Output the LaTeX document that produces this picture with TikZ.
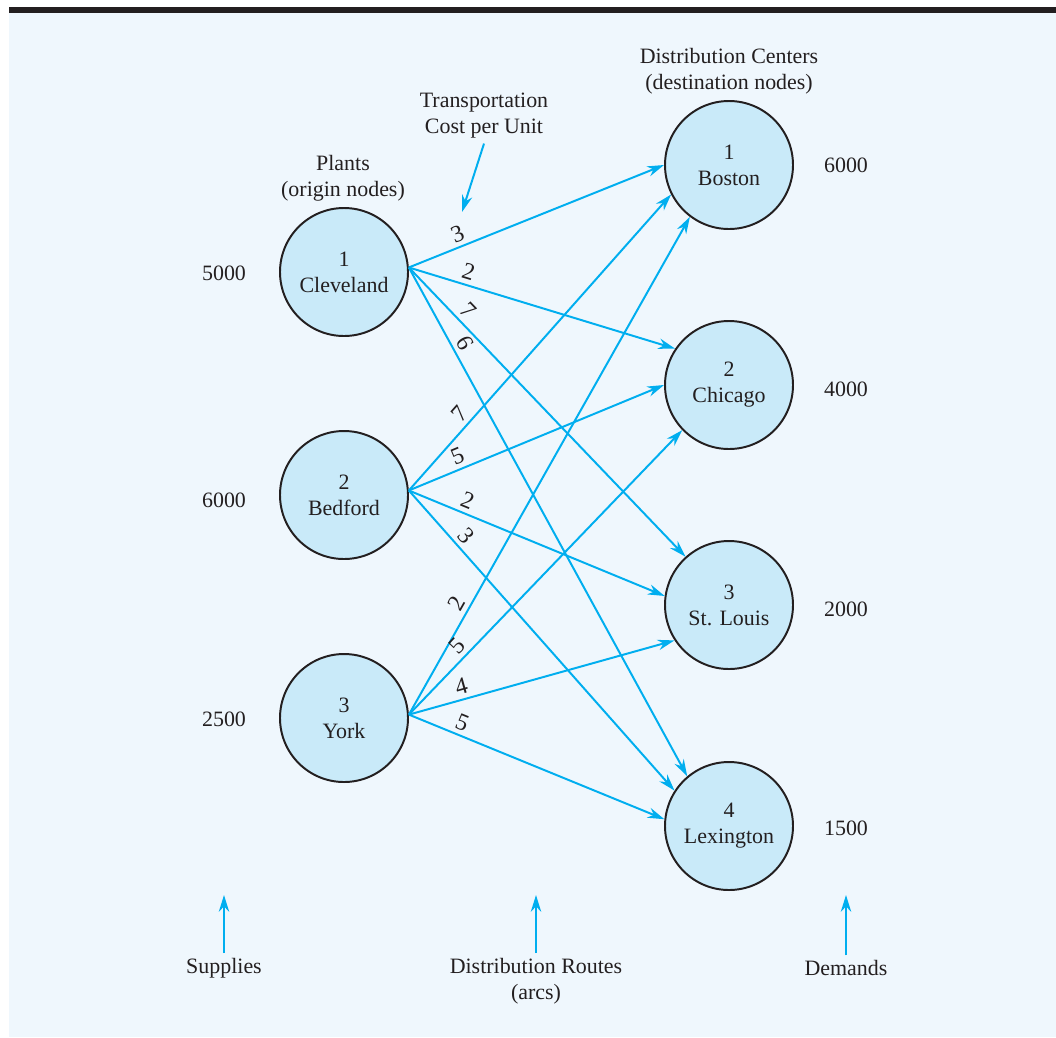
\documentclass[tikz,border=0pt]{standalone}
\usepackage{fontspec}
\setmainfont{Liberation Serif}
\usetikzlibrary{arrows.meta}
\definecolor{routecyan}{HTML}{00AEEF}
\definecolor{nodefill}{HTML}{C9EAF9}
\definecolor{panel}{HTML}{EFF7FD}
\definecolor{ink}{HTML}{231F20}

\begin{document}
\begin{tikzpicture}[x=0.25mm,y=-0.25mm,
  font=\fontsize{15.6}{18.5}\selectfont, text=ink,
  site/.style={draw=ink, line width=1.4pt, circle, fill=nodefill, minimum size=32mm, inner sep=0pt, align=center},
  route/.style={draw=routecyan, line width=1.4pt, -{Stealth[length=4.2mm,width=2.6mm]}},
  cost/.style={sloped, above, pos=0.21, inner sep=3pt, font=\fontsize{17}{18.5}\selectfont}]
\useasboundingbox (0,0) rectangle (1056,1037);
\fill[panel] (9,13) rectangle (1056,1037);
\fill[ink] (9,7) rectangle (1056,13);

% plants and distribution centers
\node[site] (p1) at (344,272) {1\\Cleveland};
\node[site] (p2) at (344,495) {2\\Bedford};
\node[site] (p3) at (344,718) {3\\York};

\node[site] (d1) at (729,165) {1\\Boston};
\node[site] (d2) at (729,385) {2\\Chicago};
\node[site] (d3) at (729,605) {3\\St. Louis};
\node[site] (d4) at (729,826) {4\\Lexington};

\node[align=center] (plants) at (343,178) {Plants\\(origin nodes)};
\node[align=center] (centers) at (729,71) {Distribution Centers\\(destination nodes)};
\node[align=center] (tc) at (484,116) {Transportation\\Cost per Unit};
\coordinate (tcend) at (462,212);

% supplies and demands
\node (s1) at (224,273) {5000};
\node (s2) at (224,500) {6000};
\node (s3) at (224,719) {2500};
\node (q1) at (846,165) {6000};
\node (q2) at (846,389) {4000};
\node (q3) at (846,609) {2000};
\node (q4) at (846,828) {1500};

% routes
\draw[route] (p1.4) -- node[cost]{3} (d1.180);
\draw[route] (p1.4) -- node[cost]{2} (d2.146);
\draw[route] (p1.4) -- node[cost, pos=0.18]{7} (d3.132);
\draw[route] (p1.4) -- node[cost, pos=0.16]{6} (d4.130);

\draw[route] (p2.4) -- node[cost, pos=0.23]{7} (d1.207);
\draw[route] (p2.4) -- node[cost]{5} (d2.180);
\draw[route] (p2.4) -- node[cost]{2} (d3.172);
\draw[route] (p2.4) -- node[cost, pos=0.18]{3} (d4.147);

\draw[route] (p3.3) -- node[cost]{2} (d1.233);
\draw[route] (p3.3) -- node[cost]{5} (d2.224);
\draw[route] (p3.3) -- node[cost]{4} (d3.213);
\draw[route] (p3.3) -- node[cost, pos=0.19]{5} (d4.174);

\draw[route] (tc.south) -- (tcend);

% bottom captions
\node (sup) at (224,968) {Supplies};
\node[align=center] (routes) at (536,981) {Distribution Routes\\(arcs)};
\node (dem) at (846,968) {Demands};
\coordinate (supt) at (224,895);
\coordinate (routest) at (536,895);
\coordinate (demt) at (846,895);
\draw[route] (sup.north) -- (supt);
\draw[route] (routes.north) -- (routest);
\draw[route] (dem.north) -- (demt);
\end{tikzpicture}
\end{document}
